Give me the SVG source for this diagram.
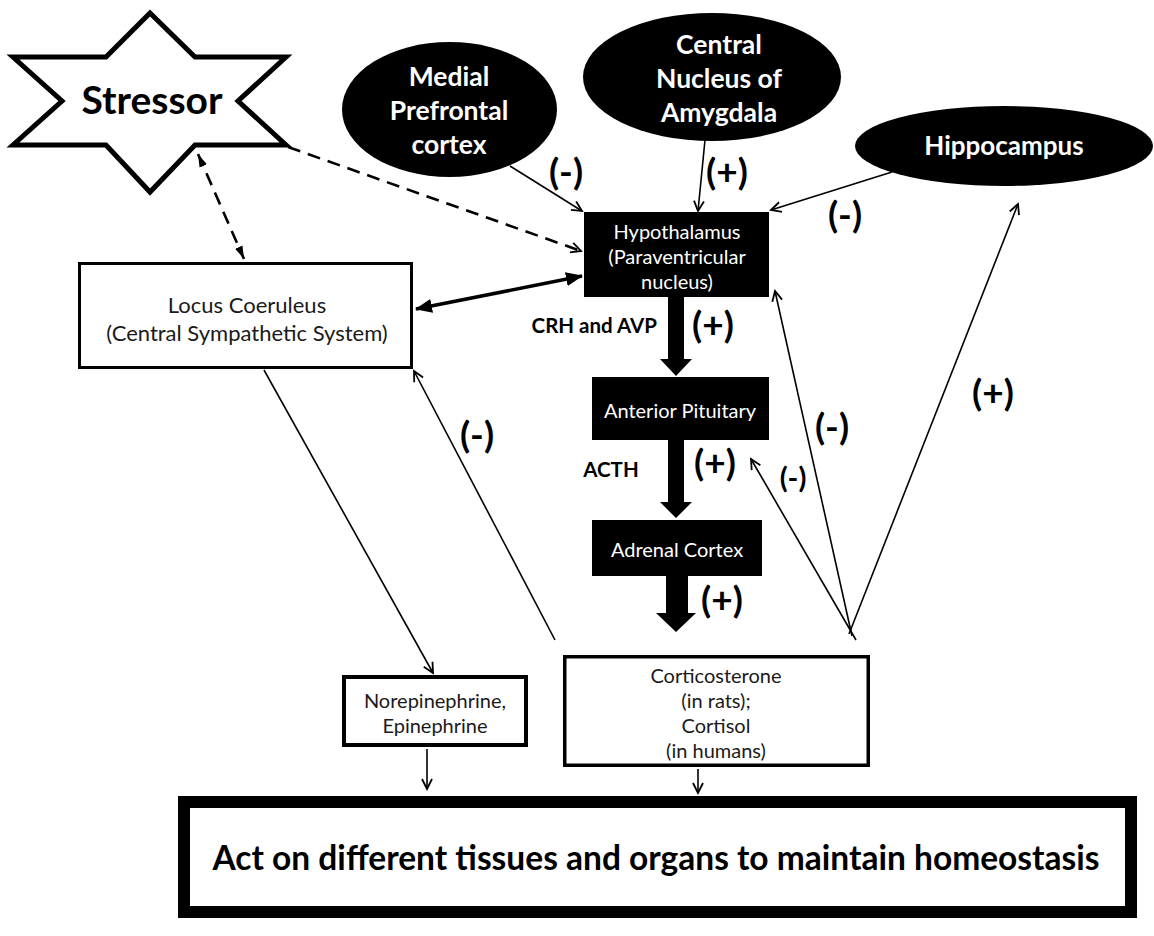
<svg xmlns="http://www.w3.org/2000/svg" width="1154" height="936" viewBox="0 0 1154 936">
  <style>
    text { font-family: Lato, "Open Sans", "Liberation Sans", sans-serif; text-anchor: middle; }
    .oval-label { font-size: 26.5px; font-weight: bold; fill: #fff; }
    .box-label-w { font-size: 20px; fill: #fff; }
    .box-label { font-size: 20px; fill: #1a1a1a; }
    .sign { font-size: 37px; font-weight: bold; fill: #000; }
    .sign-s { font-size: 29px; font-weight: bold; fill: #000; }
    .hormone { font-size: 20.5px; font-weight: bold; fill: #000; }
    .thin { stroke: #000; stroke-width: 1.6; fill: none; }
    .dash { stroke: #000; stroke-width: 2.6; fill: none; stroke-dasharray: 13 8; }
    .thick { stroke: #000; stroke-width: 3.6; fill: none; }
    .wbox { fill: #fff; stroke: #000; }
    .bbox { fill: #000; }
  </style>
  <defs>
    <marker id="open" markerUnits="userSpaceOnUse" markerWidth="14" markerHeight="14" refX="11" refY="6" orient="auto-start-reverse" viewBox="0 0 14 12">
      <path d="M1,1 L11,6 L1,11" fill="none" stroke="#000" stroke-width="1.8"/>
    </marker>
    <marker id="solid" markerUnits="userSpaceOnUse" markerWidth="18" markerHeight="14" refX="16" refY="7" orient="auto-start-reverse" viewBox="0 0 18 14">
      <path d="M0,0 L17,7 L0,14 Z" fill="#000"/>
    </marker>
    <marker id="slim" markerUnits="userSpaceOnUse" markerWidth="14" markerHeight="10" refX="13" refY="5" orient="auto-start-reverse" viewBox="0 0 14 10">
      <path d="M0,1 L13,5 L0,9 Z" fill="#000"/>
    </marker>
  </defs>

  <!-- connectors -->
  <g id="connectors">
    <line class="dash" x1="288" y1="147" x2="581" y2="251" marker-end="url(#open)"/>
    <line class="dash" x1="198" y1="154" x2="244" y2="259" marker-start="url(#slim)" marker-end="url(#slim)"/>
    <line class="thick" x1="416" y1="309" x2="582" y2="276" marker-start="url(#solid)" marker-end="url(#solid)"/>
    <line class="thin" x1="510" y1="166" x2="582" y2="211" marker-end="url(#open)"/>
    <line class="thin" x1="705" y1="140" x2="698" y2="211" marker-end="url(#open)"/>
    <line class="thin" x1="892" y1="172" x2="771" y2="210" marker-end="url(#open)"/>
    <line class="thin" x1="264" y1="370" x2="433" y2="673" marker-end="url(#open)"/>
    <line class="thin" x1="427" y1="749" x2="427" y2="789" marker-end="url(#open)"/>
    <line class="thin" x1="698" y1="769" x2="698" y2="793" marker-end="url(#open)"/>
    <line class="thin" x1="555" y1="640" x2="414" y2="371" marker-end="url(#open)"/>
    <line class="thin" x1="856" y1="640" x2="751" y2="459" marker-end="url(#open)"/>
    <line class="thin" x1="852" y1="636" x2="775" y2="291" marker-end="url(#open)"/>
    <line class="thin" x1="849" y1="634" x2="1018" y2="204" marker-end="url(#open)"/>
    <!-- HPA cascade block arrows -->
    <path class="bbox" d="M668,297 H684 V359 H692 L676,376 L660,359 H668 Z"/>
    <path class="bbox" d="M668,440 H684 V502 H692 L676,518 L660,502 H668 Z"/>
    <path class="bbox" d="M666,576 H688 V613 H696 L676,632 L656,613 H666 Z"/>
  </g>

  <!-- nodes -->
  <g id="stressor">
    <path d="M150,13 L195,57 L286,57 L238,101 L286,145 L195,145 L150,192 L106,145 L13,145 L62,101 L13,57 L106,57 Z" fill="#fff" stroke="#000" stroke-width="5" stroke-linejoin="miter"/>
    <text x="152" y="114" style="font-size:39px;font-weight:bold;fill:#000">Stressor</text>
  </g>
  <g id="mpfc">
    <ellipse cx="449.5" cy="109.5" rx="107.5" ry="67.5" fill="#000"/>
    <text class="oval-label" x="449" y="86">Medial</text>
    <text class="oval-label" x="449" y="120">Prefrontal</text>
    <text class="oval-label" x="449" y="154">cortex</text>
  </g>
  <g id="amygdala">
    <ellipse cx="712" cy="77" rx="129" ry="64" fill="#000"/>
    <text class="oval-label" x="719" y="54">Central</text>
    <text class="oval-label" x="719" y="88">Nucleus of</text>
    <text class="oval-label" x="719" y="122">Amygdala</text>
  </g>
  <g id="hippocampus">
    <ellipse cx="1004" cy="146" rx="149" ry="40" fill="#000"/>
    <text class="oval-label" x="1004" y="155" style="font-size:26px">Hippocampus</text>
  </g>
  <g id="hypothalamus">
    <rect class="bbox" x="584" y="212" width="185" height="85"/>
    <text class="box-label-w" x="677" y="239">Hypothalamus</text>
    <text class="box-label-w" x="677" y="264">(Paraventricular</text>
    <text class="box-label-w" x="677" y="289">nucleus)</text>
  </g>
  <g id="locus-coeruleus">
    <rect class="wbox" x="79.5" y="263.5" width="332" height="104" stroke-width="3"/>
    <text class="box-label" x="247" y="313" style="font-size:22px">Locus Coeruleus</text>
    <text class="box-label" x="247" y="341" style="font-size:22px">(Central Sympathetic System)</text>
  </g>
  <g id="anterior-pituitary">
    <rect class="bbox" x="592" y="377" width="177" height="63"/>
    <text class="box-label-w" x="680" y="418">Anterior Pituitary</text>
  </g>
  <g id="adrenal-cortex">
    <rect class="bbox" x="592" y="520" width="170" height="56"/>
    <text class="box-label-w" x="677" y="557">Adrenal Cortex</text>
  </g>
  <g id="catecholamines">
    <rect class="wbox" x="344" y="677" width="182" height="68" stroke-width="4"/>
    <text class="box-label" x="435" y="708">Norepinephrine,</text>
    <text class="box-label" x="435" y="733">Epinephrine</text>
  </g>
  <g id="glucocorticoids">
    <rect class="wbox" x="564.75" y="656.75" width="303.5" height="108.5" stroke-width="3.5"/>
    <text class="box-label" x="716" y="683">Corticosterone</text>
    <text class="box-label" x="716" y="708">(in rats);</text>
    <text class="box-label" x="716" y="733">Cortisol</text>
    <text class="box-label" x="716" y="758">(in humans)</text>
  </g>
  <g id="homeostasis">
    <rect class="wbox" x="184" y="802" width="947" height="110" stroke-width="12"/>
    <text x="656" y="870" style="font-size:33.5px;font-weight:bold;fill:#000">Act on different tissues and organs to maintain homeostasis</text>
  </g>

  <!-- labels -->
  <g id="labels">
    <text class="hormone" x="657" y="333" style="text-anchor:end">CRH and AVP</text>
    <text class="hormone" x="611" y="477">ACTH</text>
    <text class="sign" x="566" y="185">(-)</text>
    <text class="sign" x="727" y="185">(+)</text>
    <text class="sign" x="845" y="228">(-)</text>
    <text class="sign" x="713" y="338">(+)</text>
    <text class="sign" x="715" y="476">(+)</text>
    <text class="sign" x="722" y="613">(+)</text>
    <text class="sign" x="477" y="448">(-)</text>
    <text class="sign" x="832" y="440">(-)</text>
    <text class="sign-s" x="793" y="488">(-)</text>
    <text class="sign" x="993" y="406">(+)</text>
  </g>
</svg>
